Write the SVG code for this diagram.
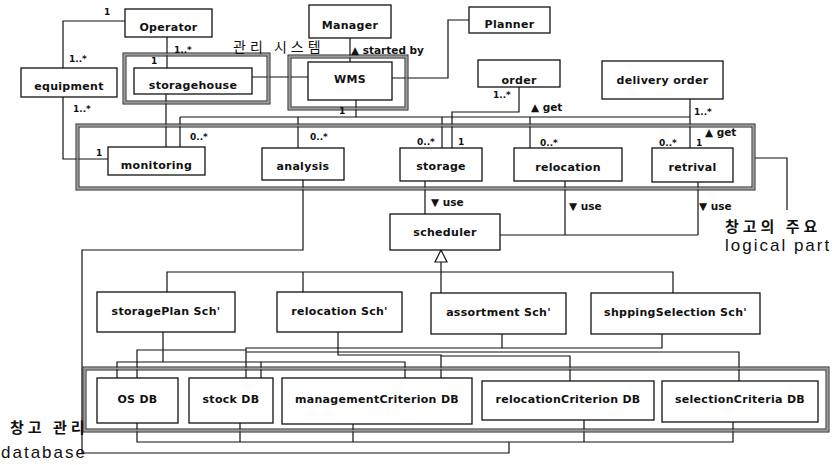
<svg xmlns="http://www.w3.org/2000/svg" width="832" height="465" viewBox="0 0 832 465">
<style>
.bx{fill:#fff;stroke:#111;stroke-width:1.3}
.lb{font-family:"DejaVu Sans",Verdana,sans-serif;font-weight:bold;font-size:11px;fill:#111;text-anchor:middle;letter-spacing:0.3px}
.m{font-family:"DejaVu Sans",Verdana,sans-serif;font-weight:bold;font-size:9px;fill:#111}
.r{font-family:"DejaVu Sans",Verdana,sans-serif;font-weight:bold;font-size:10.5px;fill:#111}
.k{font-family:"Noto Sans CJK KR",sans-serif;font-size:14px;fill:#111;letter-spacing:4px}
.kb{font-family:"Noto Sans CJK KR",sans-serif;font-size:15px;font-weight:bold;fill:#111;letter-spacing:4px}
.e{font-family:"Liberation Sans",Arial,sans-serif;font-size:17px;fill:#111;letter-spacing:2px}
.c{fill:none;stroke:#111;stroke-width:1.2}
.fo{fill:none;stroke:#222;stroke-width:1}
.fm{fill:none;stroke:#999;stroke-width:2}
</style>
<g id="connectors" class="c">
<path d="M125,21 H63 V68"/>
<path d="M167,37 V68"/>
<path d="M63,97 V159 H108"/>
<path d="M252,77 H308"/>
<path d="M350,38 V62"/>
<path d="M392,78 H448 V20 H469"/>
<path d="M166,94 V147"/>
<path d="M356,100 V117"/>
<path d="M180,117 H690"/>
<path d="M180,117 V147 M298,117 V148 M442,117 V148 M530,117 V148"/>
<path d="M519,87 V112 H452 V148"/>
<path d="M690,99 V148"/>
<path d="M755,158 H787 V210"/>
<path d="M425,181 V214"/>
<path d="M565,181 V235 M500,235 H698 M698,182 V235"/>
<path d="M303,180 V250 H82 V453 H509 V442"/>
<path d="M441,262 V293 M167,292 V272 H673 V293 M303,272 V292"/>
<polygon points="441,250 435,262 447,262" fill="#fff"/>
<path d="M163,332 V362 M117,378 V362 H405 V378 M261,362 V378"/>
<path d="M338,332 V355 H441 V378 M441,356 H570 V381"/>
<path d="M662,334 V348 H246 V378 M502,334 V348"/>
<path d="M137,378 V350 H246"/>
<path d="M246,352 H739 V381"/>
<path d="M137,423 V442 H733 V422 M240,423 V442 M353,424 V442 M584,420 V442"/>
</g>
<g id="frames">
<rect class="fm" x="124.5" y="54.5" width="144" height="48"/>
<rect class="fo" x="123" y="53" width="147" height="51"/>
<rect class="fo" x="126" y="56" width="141" height="45"/>
<rect class="fm" x="289.5" y="56.5" width="117" height="52"/>
<rect class="fo" x="288" y="55" width="120" height="55"/>
<rect class="fo" x="291" y="58" width="114" height="49"/>
<rect class="fm" x="77.5" y="125.5" width="676" height="63"/>
<rect class="fo" x="76" y="124" width="679" height="66"/>
<rect class="fo" x="79" y="127" width="673" height="60"/>
<rect class="fm" x="84.5" y="368.5" width="743" height="62"/>
<rect class="fo" x="83" y="367" width="746" height="65"/>
<rect class="fo" x="86" y="370" width="740" height="59"/>
</g>
<g id="Operator"><rect class="bx" x="125" y="9" width="87" height="28"/><text class="lb" x="168.5" y="31">Operator</text></g>
<g id="equipment"><rect class="bx" x="21" y="68" width="96" height="29"/><text class="lb" x="69" y="90">equipment</text></g>
<g id="storagehouse"><rect class="bx" x="134" y="68" width="118" height="26"/><text class="lb" x="193" y="89">storagehouse</text></g>
<g id="Manager"><rect class="bx" x="309" y="5" width="82" height="33"/><text class="lb" x="350" y="29">Manager</text></g>
<g id="WMS"><rect class="bx" x="308" y="62" width="84" height="38"/><text class="lb" x="350" y="83">WMS</text></g>
<g id="Planner"><rect class="bx" x="469" y="7" width="81" height="26"/><text class="lb" x="509.5" y="28">Planner</text></g>
<g id="order"><rect class="bx" x="478" y="60" width="82" height="27"/><text class="lb" x="519" y="84">order</text></g>
<g id="deliveryOrder"><rect class="bx" x="602" y="61" width="121" height="38"/><text class="lb" x="662.5" y="84">delivery order</text></g>
<g id="monitoring"><rect class="bx" x="108" y="147" width="97" height="28"/><text class="lb" x="156.5" y="169">monitoring</text></g>
<g id="analysis"><rect class="bx" x="262" y="148" width="82" height="32"/><text class="lb" x="303" y="170">analysis</text></g>
<g id="storage"><rect class="bx" x="400" y="148" width="82" height="33"/><text class="lb" x="441" y="170">storage</text></g>
<g id="relocation"><rect class="bx" x="514" y="148" width="108" height="33"/><text class="lb" x="568" y="171">relocation</text></g>
<g id="retrival"><rect class="bx" x="652" y="148" width="81" height="34"/><text class="lb" x="692.5" y="171">retrival</text></g>
<g id="scheduler"><rect class="bx" x="390" y="214" width="110" height="36"/><text class="lb" x="445" y="236">scheduler</text></g>
<g id="storagePlanSch"><rect class="bx" x="97" y="292" width="138" height="40"/><text class="lb" x="166" y="315">storagePlan Sch'</text></g>
<g id="relocationSch"><rect class="bx" x="277" y="292" width="125" height="40"/><text class="lb" x="339.5" y="315">relocation Sch'</text></g>
<g id="assortmentSch"><rect class="bx" x="431" y="293" width="135" height="41"/><text class="lb" x="498.5" y="316">assortment Sch'</text></g>
<g id="shppingSelectionSch"><rect class="bx" x="591" y="293" width="169" height="41"/><text class="lb" x="675.5" y="316">shppingSelection Sch'</text></g>
<g id="OSDB"><rect class="bx" x="97" y="378" width="81" height="45"/><text class="lb" x="137.5" y="403">OS DB</text></g>
<g id="stockDB"><rect class="bx" x="189" y="378" width="84" height="45"/><text class="lb" x="231" y="403">stock DB</text></g>
<g id="managementCriterionDB"><rect class="bx" x="282" y="378" width="190" height="46"/><text class="lb" x="377" y="403">managementCriterion DB</text></g>
<g id="relocationCriterionDB"><rect class="bx" x="482" y="381" width="172" height="39"/><text class="lb" x="568" y="403">relocationCriterion DB</text></g>
<g id="selectionCriteriaDB"><rect class="bx" x="662" y="381" width="156" height="41"/><text class="lb" x="740" y="403">selectionCriteria DB</text></g>
<g id="labels">
<text class="m" x="104" y="15">1</text>
<text class="m" x="69" y="62">1..*</text>
<text class="m" x="73" y="112">1..*</text>
<text class="m" x="174" y="53">1..*</text>
<text class="m" x="151" y="64">1</text>
<text class="m" x="339" y="114" font-size="7">1</text>
<text class="m" x="493" y="98">1..*</text>
<text class="m" x="694" y="115">1..*</text>
<text class="m" x="96" y="156">1</text>
<text class="m" x="190" y="140">0..*</text>
<text class="m" x="310" y="140">0..*</text>
<text class="m" x="417" y="145">0..*</text>
<text class="m" x="458" y="145">1</text>
<text class="m" x="540" y="146">0..*</text>
<text class="m" x="659" y="146">0..*</text>
<text class="m" x="696" y="146">1</text>
<text class="r" x="351" y="54">▲ started by</text>
<text class="r" x="531" y="111">▲ get</text>
<text class="r" x="705" y="136">▲ get</text>
<text class="r" x="431" y="206">▼ use</text>
<text class="r" x="569" y="210">▼ use</text>
<text class="r" x="699" y="210">▼ use</text>
<text class="k" x="233" y="52">관리 시스템</text>
<text class="kb" x="725" y="232">창고의 주요</text>
<text class="e" x="725" y="251">logical part</text>
<text class="kb" x="10" y="433">창고 관리</text>
<text class="e" x="1" y="458">database</text>
</g>
</svg>
